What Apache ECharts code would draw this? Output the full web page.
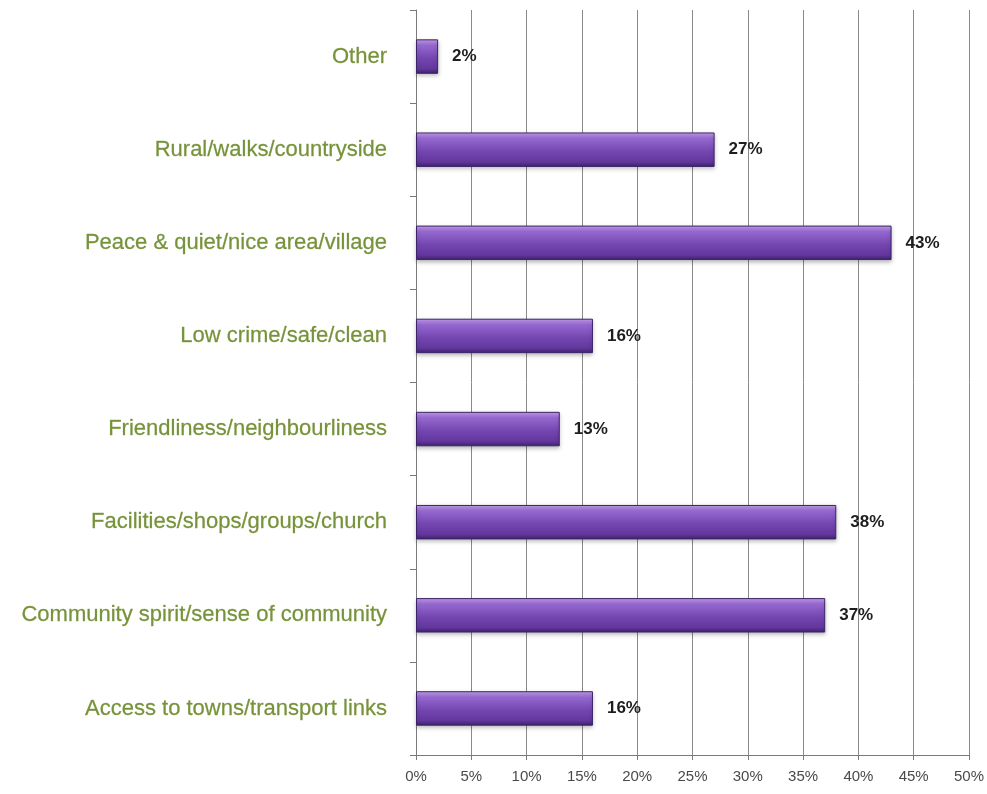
<!DOCTYPE html>
<html style="height: 100%">
<head>
<meta charset="utf-8">
<script src="https://cdn.jsdelivr.net/npm/echarts@6/dist/echarts.min.js"></script>
</head>
<body style="height: 100%; margin: 0; background: #fff">
<div id="container" style="width: 987px; height: 794px;"></div>
<script type="text/javascript">
// categories listed top to bottom (axis is inverted)
var categories = [
  "Other",
  "Rural/walks/countryside",
  "Peace & quiet/nice area/village",
  "Low crime/safe/clean",
  "Friendliness/neighbourliness",
  "Facilities/shops/groups/church",
  "Community spirit/sense of community",
  "Access to towns/transport links"
];
var values = [2, 27, 43, 16, 13, 38, 37, 16];
var xTicks = [0, 5, 10, 15, 20, 25, 30, 35, 40, 45, 50];

var myChart = echarts.init(document.getElementById("container"));

var barColor = new echarts.graphic.LinearGradient(0, 0, 0, 1, [
  { offset: 0, color: "#c6a0ee" },
  { offset: 0.18, color: "#9568d0" },
  { offset: 0.55, color: "#7446b0" },
  { offset: 0.85, color: "#64379e" },
  { offset: 1, color: "#3c2369" }
]);

var option = {
  backgroundColor: "#ffffff",
  animation: false,
  grid: { left: 416, right: 17, top: 10, bottom: 39 },
  xAxis: {
    type: "value",
    min: xTicks[0],
    max: xTicks[xTicks.length - 1],
    interval: 5,
    axisLine: { show: true, lineStyle: { color: "#7a7a7a", width: 1 } },
    axisTick: { show: true, length: 5, lineStyle: { color: "#7a7a7a" } },
    splitLine: { show: true, lineStyle: { color: "#8a8a8a", width: 1 } },
    axisLabel: {
      formatter: "{value}%",
      color: "#4a4a4a",
      fontFamily: "Liberation Sans",
      fontSize: 15,
      margin: 14
    }
  },
  yAxis: {
    type: "category",
    data: categories,
    inverse: true,
    axisLine: { show: true, lineStyle: { color: "#7a7a7a", width: 1 } },
    axisTick: { show: true, length: 6, lineStyle: { color: "#7a7a7a" } },
    splitLine: { show: false },
    axisLabel: {
      color: "#76923a",
      textBorderColor: "#95ab60",
      textBorderWidth: 0.3,
      fontFamily: "Liberation Sans",
      fontSize: 22,
      margin: 29
    }
  },
  series: [{
    type: "bar",
    data: values,
    barWidth: "37%",
    itemStyle: {
      color: barColor,
      borderColor: "#3a2466",
      borderWidth: 1,
      shadowColor: "rgba(0,0,0,0.25)",
      shadowBlur: 4,
      shadowOffsetY: 2
    },
    label: {
      show: true,
      position: "right",
      distance: 14,
      formatter: "{c}%",
      color: "#1e1e1e",
      fontFamily: "Liberation Sans",
      fontWeight: "bold",
      fontSize: 17
    }
  }]
};

myChart.setOption(option, true);
</script>
</body>
</html>
